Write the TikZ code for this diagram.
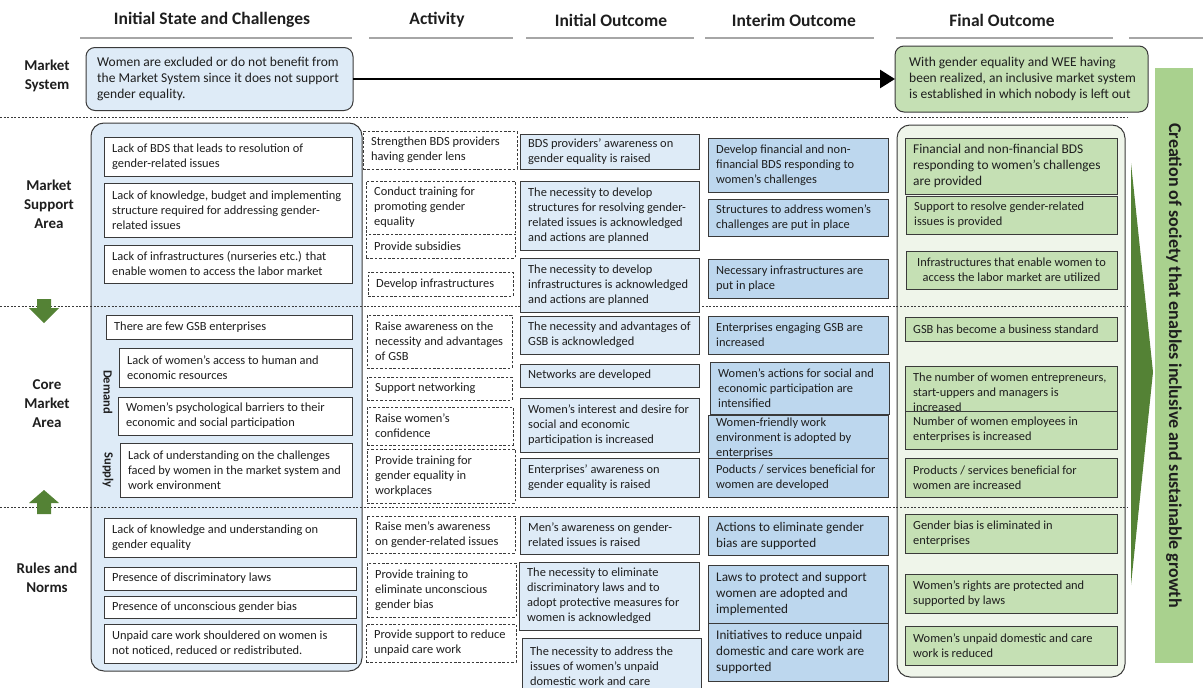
\documentclass[tikz,border=0pt]{standalone}
\usepackage{fontspec}
\setmainfont{Carlito}
\usetikzlibrary{arrows.meta}

\definecolor{edge}{HTML}{3A3A3A}
\definecolor{ink}{HTML}{1E1E1E}
\definecolor{paleblue}{HTML}{DEEBF7}
\definecolor{midblue}{HTML}{BDD7EE}
\definecolor{palegreen}{HTML}{C5E0B4}
\definecolor{mistgreen}{HTML}{EFF5EA}
\definecolor{leafgreen}{HTML}{A9D18E}
\definecolor{darkgreen}{HTML}{548235}
\definecolor{rulegrey}{HTML}{A6A6A6}

% box with left-aligned text: [text opts]{name}{box style}{x1}{y1}{x2}{y2}{text}
\newcommand\boxcell[8][]{%
  \node[#3, minimum width={(#6-#4)*1pt}, minimum height={(#7-#5)*1pt}]
    (#2) at ({(#4+#6)/2},{(#5+#7)/2}) {};
  \node[txt, anchor=west, #1] (#2-t) at ([xshift=8pt]#2.west) {#8};}
% same, text centred in the box
\newcommand\boxcellc[8][]{%
  \node[#3, minimum width={(#6-#4)*1pt}, minimum height={(#7-#5)*1pt}]
    (#2) at ({(#4+#6)/2},{(#5+#7)/2}) {};
  \node[txt, align=center, #1] (#2-t) at (#2.center) {#8};}

\begin{document}
\begin{tikzpicture}[x=1pt,y=-1pt,
  box/.style={draw=edge, line width=0.9pt, inner sep=0pt, outer sep=0pt, rectangle},
  statebox/.style={box, fill=white},
  actbox/.style={box, fill=white, dash pattern=on 2.6pt off 1.8pt},
  initbox/.style={box, fill=paleblue},
  midbox/.style={box, fill=midblue},
  finbox/.style={box, fill=palegreen},
  txt/.style={inner sep=0pt, align=left, text=ink, font=\fontsize{12.4}{15}\selectfont},
  bigtxt/.style={font=\fontsize{13.2}{16}\selectfont},
  head/.style={inner sep=0pt, text=ink, font=\fontsize{17.5}{20}\selectfont\bfseries},
  rowlabel/.style={inner sep=0pt, align=center, text=ink, font=\fontsize{15}{19}\selectfont\bfseries},
  side/.style={inner sep=0pt, rotate=-90, text=ink, font=\fontsize{12.5}{14}\selectfont\bfseries},
  headrule/.style={rulegrey, line width=1.8pt},
  separator/.style={edge, line width=0.8pt, dash pattern=on 2pt off 1.6pt},
  outer/.style={draw=edge, line width=1pt, inner sep=0pt, outer sep=0pt},
]
\useasboundingbox (0,0) rectangle (1203,688);
\clip (0,0) rectangle (1203,688);

% column headings
\node[head] (h-state)   at (212,20)  {Initial State and Challenges};
\node[head] (h-act)     at (437,20)  {Activity};
\node[head] (h-init)    at (611,20)  {Initial Outcome};
\node[head] (h-interim) at (794,20)  {Interim Outcome};
\node[head] (h-final)   at (1002,20) {Final Outcome};
\draw[headrule] (80,38) -- (352,38);
\draw[headrule] (369,38) -- (513,38);
\draw[headrule] (526,38) -- (694,38);
\draw[headrule] (705,38) -- (874,38);
\draw[headrule] (896,38) -- (1113,38);
\draw[headrule] (1129,38) -- (1203,38);

% row labels
\node[rowlabel] (r-ms)   at (47,76)  {Market\\System};
\node[rowlabel] (r-msa)  at (49,204) {Market\\Support\\Area};
\node[rowlabel] (r-core) at (47,404) {Core\\Market\\Area};
\node[rowlabel] (r-rn)   at (47,578) {Rules and\\Norms};

% market system row
\node[outer, fill=paleblue, rounded corners=9pt, minimum width=267pt, minimum height=63pt]
  (ms-l) at (219.5,79) {};
\node[txt, anchor=west, font=\fontsize{13.5}{16}\selectfont] (ms-l-t) at ([xshift=11pt]ms-l.west)
  {Women are excluded or do not benefit from\\the Market System since it does not support\\gender equality.};
\node[outer, fill=palegreen, rounded corners=9pt, minimum width=253pt, minimum height=66pt]
  (ms-r) at (1021.5,79) {};
\node[txt, anchor=west, font=\fontsize{13.5}{16}\selectfont] (ms-r-t) at ([xshift=14pt]ms-r.west)
  {With gender equality and WEE having\\been realized, an inclusive market system\\is established in which nobody is left out};
\draw[black, line width=2.6pt, -{Triangle[length=15pt,width=18pt]}] (ms-l.east) -- (ms-r.west);

% column frames
\node[outer, fill=paleblue, rounded corners=13pt, minimum width=271pt, minimum height=548pt]
  (state) at (226.5,397) {};
\node[outer, fill=mistgreen, rounded corners=13pt, minimum width=228pt, minimum height=552pt]
  (final) at (1011,401) {};

% growth wedge and goal band
\fill[darkgreen] (1131,163) -- (1153,372) -- (1131,585) -- cycle;
\node[fill=leafgreen, inner sep=0pt, minimum width=38pt, minimum height=595pt] (band) at (1174,365.5) {};
\node[inner sep=0pt, rotate=-90, text=ink, font=\fontsize{18}{20}\selectfont\bfseries] (band-t) at (band.center)
  {Creation of society that enables inclusive and sustainable growth};

% area separators
\draw[separator] (0,117) -- (1128,117);
\draw[separator] (0,306) -- (1128,306);
\draw[separator] (0,507) -- (1128,507);

% links between areas
\fill[darkgreen] (37,299) -- (51,299) -- (51,308) -- (59,308) -- (44,323) -- (29,308) -- (37,308) -- cycle;
\fill[darkgreen] (37,514) -- (51,514) -- (51,503) -- (59,503) -- (44,490) -- (29,503) -- (37,503) -- cycle;

% initial state and challenges
\boxcell{b1}{statebox}{104}{137}{352}{176}{Lack of BDS that leads to resolution of\\gender-related issues}
\boxcell{b2}{statebox}{104}{183}{352}{237}{Lack of knowledge, budget and implementing\\structure required for addressing gender-\\related issues}
\boxcell{b3}{statebox}{104}{245}{352}{283}{Lack of infrastructures (nurseries etc.) that\\enable women to access the labor market}
\boxcell{b4}{statebox}{106}{315}{352}{339}{There are few GSB enterprises}
\boxcell{b5}{statebox}{119}{348}{352}{387}{Lack of women’s access to human and\\economic resources}
\boxcell{b6}{statebox}{118}{397}{352}{435}{Women’s psychological barriers to their\\economic and social participation}
\boxcell{b7}{statebox}{120}{443}{352}{497}{Lack of understanding on the challenges\\faced by women in the market system and\\work environment}
\boxcell{b8}{statebox}{104}{518}{356}{557}{Lack of knowledge and understanding on\\gender equality}
\boxcell{b9}{statebox}{104}{567}{356}{590}{Presence of discriminatory laws}
\boxcell{b10}{statebox}{104}{596}{356}{618}{Presence of unconscious gender bias}
\boxcell{b11}{statebox}{104}{624}{356}{663}{Unpaid care work shouldered on women is\\not noticed, reduced or redistributed.}
\node[side] (demand) at (108,392) {Demand};
\node[side] (supply) at (108,470) {Supply};

% activities
\boxcell{a1}{actbox}{363}{131}{517}{169}{Strengthen BDS providers\\having gender lens}
\boxcell{a2}{actbox}{366}{181}{515}{234}{Conduct training for\\promoting gender\\equality}
\boxcell{a3}{actbox}{366}{234}{515}{258}{Provide subsidies}
\boxcell{a4}{actbox}{368}{272}{513}{296}{Develop infrastructures}
\boxcell{a5}{actbox}{367}{315}{512}{368}{Raise awareness on the\\necessity and advantages\\of GSB}
\boxcell{a6}{actbox}{367}{377}{512}{400}{Support networking}
\boxcell{a7}{actbox}{367}{407}{513}{445}{Raise women’s\\confidence}
\boxcell{a8}{actbox}{367}{449}{515}{503}{Provide training for\\gender equality in\\workplaces}
\boxcell{a9}{actbox}{367}{516}{515}{553}{Raise men’s awareness\\on gender-related issues}
\boxcell{a10}{actbox}{367}{563}{516}{617}{Provide training to\\eliminate unconscious\\gender bias}
\boxcell{a11}{actbox}{366}{624}{516}{662}{Provide support to reduce\\unpaid care work}

% initial outcomes
\boxcell{o1}{initbox}{520}{134}{699}{169}{BDS providers’ awareness on\\gender equality is raised}
\boxcell{o2}{initbox}{520}{181}{699}{250}{The necessity to develop\\structures for resolving gender-\\related issues is acknowledged\\and actions are planned}
\boxcell{o3}{initbox}{520}{258}{699}{312}{The necessity to develop\\infrastructures is acknowledged\\and actions are planned}
\boxcell{o4}{initbox}{520}{316}{699}{354}{The necessity and advantages of\\GSB is acknowledged}
\boxcell{o5}{initbox}{520}{364}{699}{387}{Networks are developed}
\boxcell{o6}{initbox}{520}{398}{699}{452}{Women’s interest and desire for\\social and economic\\participation is increased}
\boxcell{o7}{initbox}{520}{458}{699}{497}{Enterprises’ awareness on\\gender equality is raised}
\boxcell{o8}{initbox}{520}{516}{699}{554}{Men’s awareness on gender-\\related issues is raised}
\boxcell{o9}{initbox}{519}{562}{699}{630}{The necessity to eliminate\\discriminatory laws and to\\adopt protective measures for\\women is acknowledged}
\boxcell[yshift=3pt]{o10}{initbox}{522}{638}{701}{700}{The necessity to address the\\issues of women’s unpaid\\domestic work and care}

% interim outcomes
\boxcell{i1}{midbox}{708}{138}{888}{192}{Develop financial and non-\\financial BDS responding to\\women’s challenges}
\boxcell{i2}{midbox}{708}{199}{888}{236}{Structures to address women’s\\challenges are put in place}
\boxcell{i3}{midbox}{708}{259}{888}{298}{Necessary infrastructures are\\put in place}
\boxcell{i4}{midbox}{708}{316}{888}{354}{Enterprises engaging GSB are\\increased}
\boxcell{i5}{midbox}{710}{362}{889}{414}{Women’s actions for social and\\economic participation are\\intensified}
\boxcell[yshift=-1.5pt]{i6}{midbox}{708}{415}{888}{458}{Women-friendly work\\environment is adopted by\\enterprises}
\boxcell{i7}{midbox}{708}{458}{888}{497}{Poducts / services beneficial for\\women are developed}
\boxcell[bigtxt]{i8}{midbox}{708}{516}{888}{555}{Actions to eliminate gender\\bias are supported}
\boxcell[bigtxt]{i9}{midbox}{708}{565}{888}{623}{Laws to protect and support\\women are adopted and\\implemented}
\boxcell[bigtxt]{i10}{midbox}{708}{623}{888}{681}{Initiatives to reduce unpaid\\domestic and care work are\\supported}

% final outcomes
\boxcell[font=\fontsize{13.4}{16}\selectfont]{f1}{finbox}{905}{138}{1117}{194}{Financial and non-financial BDS\\responding to women’s challenges\\are provided}
\boxcell{f2}{finbox}{906}{196}{1117}{234}{Support to resolve gender-related\\issues is provided}
\boxcellc{f3}{finbox}{906}{251}{1117}{289}{Infrastructures that enable women to\\access the labor market are utilized}
\boxcell{f4}{finbox}{905}{317}{1117}{341}{GSB has become a business standard}
\boxcell[yshift=-3.5pt]{f5}{finbox}{905}{366}{1117}{411}{The number of women entrepreneurs,\\start-uppers and managers is\\increased}
\boxcell{f6}{finbox}{905}{411}{1117}{449}{Number of women employees in\\enterprises is increased}
\boxcell{f7}{finbox}{905}{458}{1117}{497}{Products / services beneficial for\\women are increased}
\boxcell{f8}{finbox}{905}{514}{1117}{553}{Gender bias is eliminated in\\enterprises}
\boxcell{f9}{finbox}{905}{574}{1117}{613}{Women’s rights are protected and\\supported by laws}
\boxcell{f10}{finbox}{905}{626}{1117}{665}{Women’s unpaid domestic and care\\work is reduced}
\end{tikzpicture}
\end{document}
